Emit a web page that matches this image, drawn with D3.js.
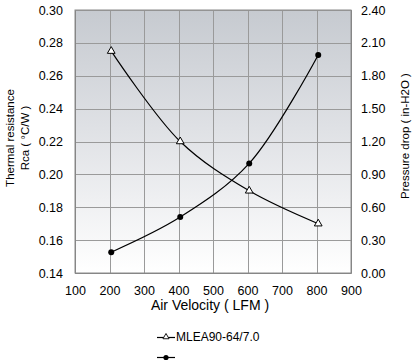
<!DOCTYPE html>
<html>
<head>
<meta charset="utf-8">
<script src="https://cdn.jsdelivr.net/npm/d3@7"></script>
<style>
  body { margin: 0; background: #fff; }
  svg text { font-family: "Liberation Sans", Arial, sans-serif; fill: #000; }
</style>
</head>
<body>
<div id="chart-container"></div>
<script>
// Data
const velocity = [205, 405, 605, 805];
const resistance = [0.275, 0.220, 0.190, 0.170];
const pressure = [0.19, 0.51, 1.00, 1.99];
const xTicks = [100, 200, 300, 400, 500, 600, 700, 800, 900];
const yLeftTicks = [0.14, 0.16, 0.18, 0.20, 0.22, 0.24, 0.26, 0.28, 0.30];
const yRightTicks = [0, 0.3, 0.6, 0.9, 1.2, 1.5, 1.8, 2.1, 2.4];
const seriesName = "MLEA90-64/7.0";

const W = 416, H = 364;
const margin = {top: 10, right: 65, bottom: 91, left: 75};
const width = W - margin.left - margin.right;
const height = H - margin.top - margin.bottom;

const root = d3.select("#chart-container").append("svg")
  .attr("width", W).attr("height", H);

// background gradient of the plot area
const defs = root.append("defs");
const grad = defs.append("linearGradient").attr("id", "bg")
  .attr("x1", 0).attr("y1", 0).attr("x2", 0).attr("y2", 1);
grad.append("stop").attr("offset", "0%").attr("stop-color", "#c6cad0");
grad.append("stop").attr("offset", "45%").attr("stop-color", "#dfe1e5");
grad.append("stop").attr("offset", "100%").attr("stop-color", "#ffffff");

const svg = root.append("g").attr("transform", `translate(${margin.left},${margin.top})`);

const x = d3.scaleLinear().domain([100, 900]).range([0, width]);
const yL = d3.scaleLinear().domain([0.14, 0.30]).range([height, 0]);
const yR = d3.scaleLinear().domain([0, 2.4]).range([height, 0]);

svg.append("rect").attr("width", width).attr("height", height).attr("fill", "url(#bg)");

// grid lines
svg.append("g").selectAll("line").data(yLeftTicks).join("line")
  .attr("x1", 0).attr("x2", width)
  .attr("y1", d => Math.round(yL(d)) + 0.5).attr("y2", d => Math.round(yL(d)) + 0.5)
  .attr("stroke", "#9a9a9a").attr("stroke-width", 1);
svg.append("g").selectAll("line").data(xTicks).join("line")
  .attr("y1", 0).attr("y2", height)
  .attr("x1", d => Math.round(x(d)) + 0.5).attr("x2", d => Math.round(x(d)) + 0.5)
  .attr("stroke", "#9a9a9a").attr("stroke-width", 1);

// axes
const axL = svg.append("g")
  .call(d3.axisLeft(yL).tickValues(yLeftTicks).tickFormat(d3.format(".2f")).tickSize(0).tickPadding(12));
const axR = svg.append("g").attr("transform", `translate(${width},0)`)
  .call(d3.axisRight(yR).tickValues(yRightTicks).tickFormat(d3.format(".2f")).tickSize(0).tickPadding(10));
const axB = svg.append("g").attr("transform", `translate(0,${height})`)
  .call(d3.axisBottom(x).tickValues(xTicks).tickFormat(d3.format("d")).tickSize(0).tickPadding(13));
[axL, axR, axB].forEach(a => {
  a.select(".domain").attr("stroke", "#808080");
  a.selectAll("text").style("font-size", "12.5px").attr("fill", "#000");
});
svg.append("rect").attr("width", width).attr("height", height)
  .attr("fill", "none").attr("stroke", "#8c8c8c");

// lines
const lineL = d3.line().x((d, i) => x(velocity[i])).y(d => yL(d)).curve(d3.curveCatmullRom.alpha(0.5));
const lineR = d3.line().x((d, i) => x(velocity[i])).y(d => yR(d)).curve(d3.curveCatmullRom.alpha(0.5));

svg.append("path").datum(resistance).attr("d", lineL)
  .attr("fill", "none").attr("stroke", "#000").attr("stroke-width", 1.2);
svg.append("path").datum(pressure).attr("d", lineR)
  .attr("fill", "none").attr("stroke", "#000").attr("stroke-width", 1.2);

const tri = d3.symbol().type(d3.symbolTriangle).size(26);
svg.selectAll(".tri").data(resistance).join("path")
  .attr("transform", (d, i) => `translate(${x(velocity[i])},${yL(d)})`)
  .attr("d", tri).attr("fill", "#fff").attr("stroke", "#000").attr("stroke-width", 1);
svg.selectAll(".dot").data(pressure).join("circle")
  .attr("cx", (d, i) => x(velocity[i])).attr("cy", d => yR(d))
  .attr("r", 3).attr("fill", "#000");

// axis titles
root.append("text").attr("x", 210).attr("y", 310)
  .attr("text-anchor", "middle").style("font-size", "14px").text("Air Velocity ( LFM )");
root.append("text").attr("transform", "translate(14,138) rotate(-90)")
  .attr("text-anchor", "middle").style("font-size", "11.5px").text("Thermal resistance");
root.append("text").attr("transform", "translate(29,138) rotate(-90)")
  .attr("text-anchor", "middle").style("font-size", "11.5px").text("Rca ( °C/W )");
root.append("text").attr("transform", "translate(409,136) rotate(-90)")
  .attr("text-anchor", "middle").style("font-size", "11.5px").text("Pressure drop ( in-H2O )");

// legend
const lg = root.append("g");
lg.append("line").attr("x1", 157).attr("x2", 175).attr("y1", 337.5).attr("y2", 337.5)
  .attr("stroke", "#000").attr("stroke-width", 1.2);
lg.append("path").attr("transform", "translate(166,337)").attr("d", d3.symbol().type(d3.symbolTriangle).size(16))
  .attr("fill", "#fff").attr("stroke", "#000").attr("stroke-width", 0.9);
lg.append("text").attr("x", 176).attr("y", 341).style("font-size", "12px").text(seriesName);
lg.append("line").attr("x1", 157).attr("x2", 175).attr("y1", 357.5).attr("y2", 357.5)
  .attr("stroke", "#000").attr("stroke-width", 1.2);
lg.append("circle").attr("cx", 166).attr("cy", 357.5).attr("r", 2.6).attr("fill", "#000");
</script>
</body>
</html>
